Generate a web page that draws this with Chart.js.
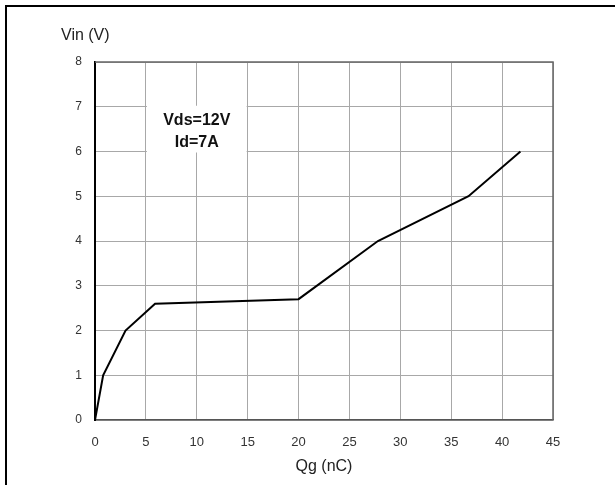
<!DOCTYPE html>
<html>
<head>
<meta charset="utf-8">
<script src="https://cdn.jsdelivr.net/npm/chart.js@4/dist/chart.umd.min.js"></script>
<style>
  html, body { margin: 0; padding: 0; background: #fff; }
  #wrap { width: 615px; height: 485px; position: relative; }
</style>
</head>
<body>
<div id="wrap"><canvas id="c" width="615" height="485"></canvas></div>
<script>
const qg = [0, 0.8, 3, 5.9, 20, 27.8, 36.7, 41.8];
const vin = [0, 1, 2, 2.6, 2.7, 4, 5, 6];
const xTitle = 'Qg (nC)';
const yTitle = 'Vin (V)';
const noteLines = ['Vds=12V', 'Id=7A'];

const FONT = '"Liberation Sans", Arial, sans-serif';

const decor = {
  id: 'decor',
  beforeDraw(chart) {
    const ctx = chart.ctx;
    ctx.save();
    ctx.fillStyle = '#fff';
    ctx.fillRect(0, 0, chart.width, chart.height);
    ctx.fillStyle = '#000';
    ctx.fillRect(5, 5, 2, chart.height - 5);
    ctx.fillRect(5, 5, chart.width - 5, 2);
    ctx.restore();
  },
  beforeDatasetsDraw(chart) {
    const ctx = chart.ctx;
    const xs = chart.scales.x, ys = chart.scales.y;
    const a = chart.chartArea;
    ctx.save();
    // top/right frame of plot
    ctx.strokeStyle = '#666';
    ctx.lineWidth = 1.5;
    ctx.beginPath();
    ctx.moveTo(a.left, a.top);
    ctx.lineTo(a.right, a.top);
    ctx.lineTo(a.right, a.bottom);
    ctx.stroke();
    // note box
    const x0 = xs.getPixelForValue(5) + 1, x1 = xs.getPixelForValue(15) - 1;
    const y0 = ys.getPixelForValue(7) - 1, y1 = ys.getPixelForValue(6) + 1;
    ctx.fillStyle = '#fff';
    ctx.fillRect(x0, y0, x1 - x0, y1 - y0);
    ctx.fillStyle = '#111';
    ctx.font = 'bold 16px ' + FONT;
    ctx.textAlign = 'center';
    ctx.textBaseline = 'middle';
    const cx = xs.getPixelForValue(10);
    ctx.fillText(noteLines[0], cx, ys.getPixelForValue(6.68));
    ctx.fillText(noteLines[1], cx, ys.getPixelForValue(6.2));
    // titles
    ctx.fillStyle = '#222';
    ctx.font = '16px ' + FONT;
    ctx.textAlign = 'left';
    ctx.fillText(yTitle, a.left - 34, a.top - 26);
    ctx.textAlign = 'center';
    ctx.fillText(xTitle, (a.left + a.right) / 2, a.bottom + 47);
    ctx.restore();
  }
};

new Chart(document.getElementById('c'), {
  type: 'scatter',
  data: {
    datasets: [{
      data: qg.map((x, i) => ({ x: x, y: vin[i] })),
      showLine: true,
      borderColor: '#000',
      borderWidth: 2,
      pointRadius: 0,
      tension: 0,
      fill: false
    }]
  },
  options: {
    responsive: false,
    animation: false,
    devicePixelRatio: 1,
    layout: { padding: { left: 0, top: 62, right: 62, bottom: 0 } },
    plugins: { legend: { display: false }, tooltip: { enabled: false } },
    scales: {
      x: {
        type: 'linear',
        min: 0, max: 45,
        ticks: { stepSize: 5, padding: 15, color: '#333', font: { size: 13, family: FONT } },
        grid: { color: '#a8a8a8', lineWidth: 1, drawTicks: false },
        border: { color: '#555', width: 1.5 },
        afterFit(s) { s.height = 65; }
      },
      y: {
        type: 'linear',
        min: 0, max: 8,
        ticks: { stepSize: 1, padding: 13, color: '#333', font: { size: 12, family: FONT } },
        grid: { color: '#a8a8a8', lineWidth: 1, drawTicks: false },
        border: { color: '#000', width: 2 },
        afterFit(s) { s.width = 95; }
      }
    }
  },
  plugins: [decor]
});
</script>
</body>
</html>
